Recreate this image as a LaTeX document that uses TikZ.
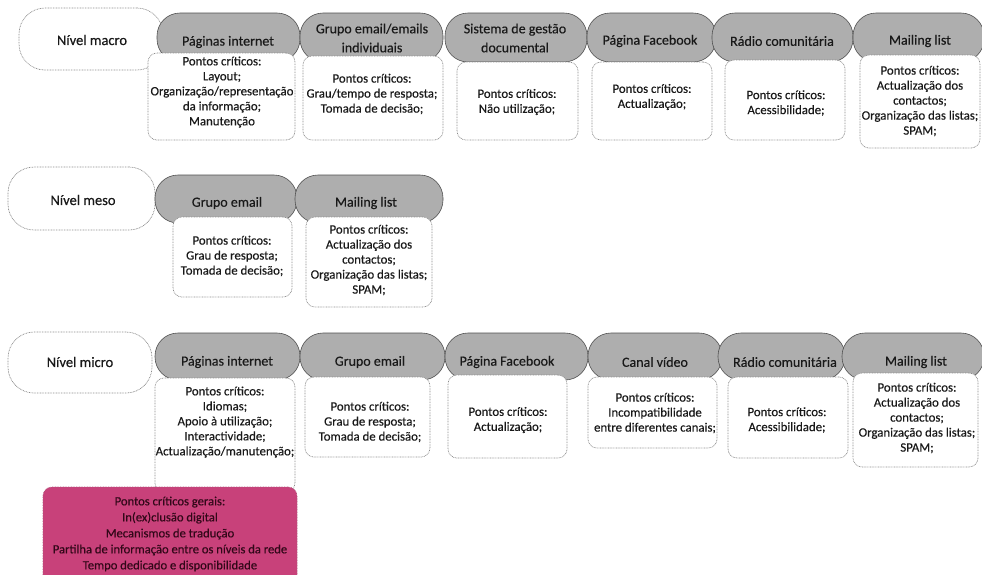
\documentclass[tikz,border=0pt]{standalone}
\usepackage{fontspec}
\setmainfont{Carlito}[FakeBold=0.35]
\definecolor{tabfill}{RGB}{174,174,174}
\definecolor{tabline}{RGB}{80,80,80}
\definecolor{dotgray}{RGB}{140,140,140}
\definecolor{txtcol}{RGB}{25,25,25}
\definecolor{pinkfill}{RGB}{200,65,122}
\definecolor{pinktxt}{RGB}{50,8,25}
\newcommand\shp[6]{\node[#1, minimum width={(#4-#3)*1pt}, minimum height={(#6-#5)*1pt}] (#2) at ({(#3+#4)/2},{(#5+#6)/2}) {};}
\tikzset{
  tab/.style={draw=tabline, fill=tabfill, rounded corners=23pt, line width=0.6pt, inner sep=0pt, outer sep=0pt},
  pbox/.style={draw=dotgray, fill=white, rounded corners=9pt, dash pattern=on 0.8pt off 0.8pt, line width=0.7pt, inner sep=0pt, outer sep=0pt},
  lvl/.style={draw=dotgray, fill=white, rounded corners=26pt, dash pattern=on 0.8pt off 0.8pt, line width=0.7pt, inner sep=0pt, outer sep=0pt},
  gbox/.style={draw=pinkfill!70!gray, fill=pinkfill, rounded corners=9pt, dash pattern=on 0.8pt off 0.8pt, line width=0.7pt, inner sep=0pt, outer sep=0pt},
  tabtxt/.style={align=center, text=txtcol, inner sep=0pt, font=\fontsize{14}{19}\selectfont},
  lvltxt/.style={align=center, text=txtcol, inner sep=0pt, font=\fontsize{14.5}{17}\selectfont},
  boxtxt/.style={align=center, text=txtcol, inner sep=0pt, font=\fontsize{12.8}{15}\selectfont},
  gtxt/.style={align=center, text=pinktxt, inner sep=0pt, font=\fontsize{12.6}{16}\selectfont}
}
\begin{document}
\begin{tikzpicture}[x=1pt,y=-1pt]
\useasboundingbox (0,0) rectangle (982,574);
\clip (0,0) rectangle (982,574);
\fill[white] (0,0) rectangle (982,574);

% ---------- Row 1: macro ----------
\shp{lvl}{lv1}{19}{163}{8}{70}
\node[lvltxt] (lv1t) at (92,40) {Nível macro};

\shp{tab}{t11}{157}{300}{13}{62}
\shp{tab}{t12}{300}{443}{13}{62}
\shp{tab}{t13}{445}{587}{13}{62}
\shp{tab}{t14}{587}{716}{13}{62}
\shp{tab}{t15}{712}{853}{13}{62}
\shp{tab}{t16}{853}{984}{13}{62}
\node[tabtxt] (l11) at (228,42) {Páginas internet};
\node[tabtxt] (l12) at (372,38) {Grupo email/emails\\individuais};
\node[tabtxt] (l13) at (515,38) {Sistema de gestão\\documental};
\node[tabtxt] (l14) at (650,41) {Página Facebook};
\node[tabtxt] (l15) at (782,41) {Rádio comunitária};
\node[tabtxt] (l16) at (920,41) {Mailing list};

\shp{pbox}{b11}{148}{295}{53}{140}
\shp{pbox}{b12}{303}{443}{56}{140}
\shp{pbox}{b13}{457}{578}{62}{140}
\shp{pbox}{b14}{592}{712}{62}{140}
\shp{pbox}{b15}{725}{845}{60}{140}
\shp{pbox}{b16}{860}{980}{55}{148}
\node[boxtxt] (x11) at (222,92) {Pontos críticos:\\Layout;\\Organização/representação\\da informação;\\Manutenção};
\node[boxtxt] (x12) at (372,94) {Pontos críticos:\\Grau/tempo de resposta;\\Tomada de decisão;};
\node[boxtxt] (x13) at (517,102) {Pontos críticos:\\Não utilização;};
\node[boxtxt] (x14) at (652,97) {Pontos críticos:\\Actualização;};
\node[boxtxt] (x15) at (786,103) {Pontos críticos:\\Acessibilidade;};
\node[boxtxt] (x16) at (920,101) {Pontos críticos:\\Actualização dos\\contactos;\\Organização das listas;\\SPAM;};

% ---------- Row 2: meso ----------
\shp{lvl}{lv2}{8}{155}{167}{230}
\node[lvltxt] (lv2t) at (83,200) {Nível meso};

\shp{tab}{t21}{155}{297}{175}{223}
\shp{tab}{t22}{295}{443}{175}{223}
\node[tabtxt] (l21) at (227,203) {Grupo email};
\node[tabtxt] (l22) at (366,203) {Mailing list};

\shp{pbox}{b21}{173}{292}{217}{297}
\shp{pbox}{b22}{306}{432}{217}{307}
\node[boxtxt] (x21) at (232,256) {Pontos críticos:\\Grau de resposta;\\Tomada de decisão;};
\node[boxtxt] (x22) at (369,260) {Pontos críticos:\\Actualização dos\\contactos;\\Organização das listas;\\SPAM;};

% ---------- Row 3: micro ----------
\shp{lvl}{lv3}{8}{152}{332}{393}
\node[lvltxt] (lv3t) at (80,362) {Nível micro};

\shp{tab}{t31}{155}{300}{333}{380}
\shp{tab}{t32}{300}{445}{333}{380}
\shp{tab}{t33}{445}{588}{333}{380}
\shp{tab}{t34}{588}{722}{333}{380}
\shp{tab}{t35}{718}{845}{333}{380}
\shp{tab}{t36}{842}{984}{333}{380}
\node[tabtxt] (l31) at (227,362) {Páginas internet};
\node[tabtxt] (l32) at (370,362) {Grupo email};
\node[tabtxt] (l33) at (507,362) {Página Facebook};
\node[tabtxt] (l34) at (655,362) {Canal vídeo};
\node[tabtxt] (l35) at (785,362) {Rádio comunitária};
\node[tabtxt] (l36) at (916,362) {Mailing list};

\shp{pbox}{b31}{155}{295}{378}{492}
\shp{pbox}{b32}{305}{430}{377}{457}
\shp{pbox}{b33}{448}{567}{375}{458}
\shp{pbox}{b34}{588}{717}{377}{448}
\shp{pbox}{b35}{728}{848}{377}{458}
\shp{pbox}{b36}{853}{978}{373}{467}
\node[boxtxt] (x31) at (225,422) {Pontos críticos:\\Idiomas;\\Apoio à utilização;\\Interactividade;\\Actualização/manutenção;};
\node[boxtxt] (x32) at (370,422) {Pontos críticos:\\Grau de resposta;\\Tomada de decisão;};
\node[boxtxt] (x33) at (508,420) {Pontos críticos:\\Actualização;};
\node[boxtxt] (x34) at (655,413) {Pontos críticos:\\Incompatibilidade\\entre diferentes canais;};
\node[boxtxt] (x35) at (787,420) {Pontos críticos:\\Acessibilidade;};
\node[boxtxt] (x36) at (917,418) {Pontos críticos:\\Actualização dos\\contactos;\\Organização das listas;\\SPAM;};

% ---------- General critical points ----------
\shp{gbox}{gp}{43}{297}{487}{586}
\node[gtxt] (gpt) at (170,534) {Pontos críticos gerais:\\In(ex)clusão digital\\Mecanismos de tradução\\Partilha de informação entre os níveis da rede\\Tempo dedicado e disponibilidade};
\end{tikzpicture}
\end{document}
